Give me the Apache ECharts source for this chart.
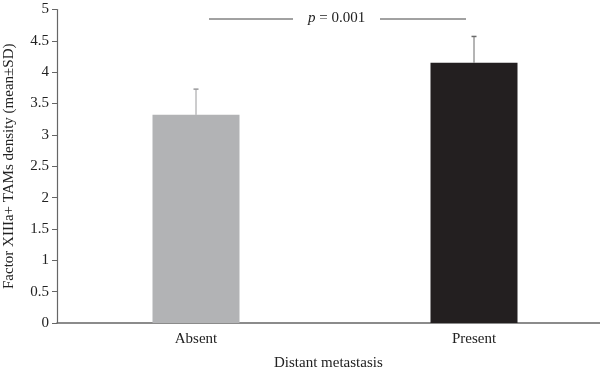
<!DOCTYPE html>
<html>
<head>
<meta charset="utf-8">
<script src="https://cdn.jsdelivr.net/npm/echarts@6/dist/echarts.min.js"></script>
<style>html,body{margin:0;padding:0;background:#fff;}#c{width:600px;height:373px;}</style>
</head>
<body>
<div id="c"></div>
<script>
var categories = ['Absent', 'Present'];
var means = [3.32, 4.15];
var sds = [0.41, 0.42];
var yTicks = [0, 0.5, 1, 1.5, 2, 2.5, 3, 3.5, 4, 4.5, 5];
var barColors = ['#b2b3b5', '#231f20'];
var errColors = ['#9a9a9c', '#6a6a6a'];
var pText = '0.001';

var FONT = 'Liberation Serif';
var chart = echarts.init(document.getElementById('c'), null, {renderer: 'canvas'});
var option = {
  animation: false,
  grid: {left: 57, right: -13, top: 9.5, bottom: 50, containLabel: false, outerBoundsMode: 'none'},
  xAxis: {
    type: 'category',
    data: categories,
    axisLine: {lineStyle: {color: '#666', width: 1.5}},
    axisTick: {alignWithLabel: true, length: 4, lineStyle: {color: '#666'}},
    axisLabel: {fontFamily: FONT, fontSize: 15, color: '#222', margin: 9}
  },
  yAxis: {
    type: 'value', min: 0, max: 5, interval: 0.5,
    name: 'Factor XIIIa+ TAMs density (mean±SD)',
    nameLocation: 'middle', nameGap: 40,
    nameTextStyle: {fontFamily: FONT, fontSize: 15, color: '#222'},
    axisLine: {show: true, lineStyle: {color: '#666', width: 1.2}},
    axisTick: {show: true, length: 5, lineStyle: {color: '#666'}},
    splitLine: {show: false},
    axisLabel: {fontFamily: FONT, fontSize: 15, color: '#222', margin: 8,
      formatter: function (v) { return String(v); }}
  },
  graphic: [
    {type: 'text', left: 274, top: 356, style: {text: 'Distant metastasis', fontFamily: FONT, fontSize: 15, fill: '#222'}},
    {type: 'line', shape: {x1: 209, y1: 19, x2: 293, y2: 19}, style: {stroke: '#444', lineWidth: 1}},
    {type: 'line', shape: {x1: 380, y1: 19, x2: 466, y2: 19}, style: {stroke: '#444', lineWidth: 1}},
    {type: 'text', left: 308, top: 11, style: {
      text: '{i|p} = ' + pText,
      rich: {i: {fontFamily: FONT, fontStyle: 'italic', fontSize: 15, fill: '#222'}},
      fontFamily: FONT, fontSize: 15, fill: '#222'}}
  ],
  series: [
    {
      type: 'bar', barWidth: 87,
      data: means.map(function (m, i) { return {value: m, itemStyle: {color: barColors[i]}}; })
    },
    {
      type: 'custom',
      data: means.map(function (m, i) { return [i, m, m + sds[i]]; }),
      renderItem: function (params, api) {
        var i = api.value(0);
        var p0 = api.coord([i, api.value(1)]);
        var p1 = api.coord([i, api.value(2)]);
        var c = errColors[i];
        return {type: 'group', children: [
          {type: 'line', shape: {x1: p0[0], y1: p0[1], x2: p1[0], y2: p1[1]}, style: {stroke: c, lineWidth: 1}},
          {type: 'line', shape: {x1: p1[0] - 2.5, y1: p1[1], x2: p1[0] + 2.5, y2: p1[1]}, style: {stroke: c, lineWidth: 1.5}}
        ]};
      },
      z: 5
    }
  ]
};
chart.setOption(option);
</script>
</body>
</html>
